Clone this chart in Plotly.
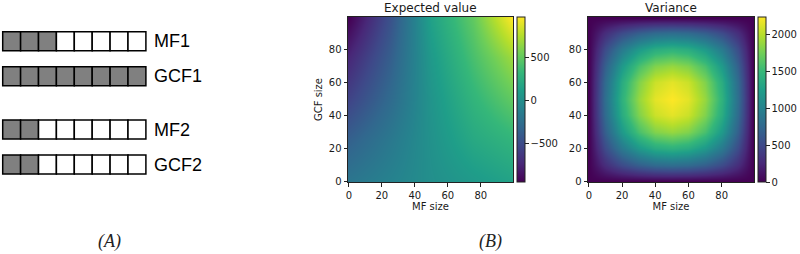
import plotly.graph_objects as go

W, H = 800, 254

# ---------------- Panel A data ----------------
row_labels = ["MF1", "GCF1", "MF2", "GCF2"]
filled_cells = [3, 8, 2, 2]
cells_per_row = 8

# ---------------- Panel B data ----------------
# Expected value, read on a coarse grid (rows = GCF size, cols = MF size)
ev_mf = [0, 25, 50, 75, 99]
ev_gcf = [0, 25, 50, 75, 99]
expected_value = [
    [-200, -100, 0, 80, 150],
    [-360, -180, 20, 200, 300],
    [-560, -290, 40, 300, 490],
    [-740, -380, 80, 400, 680],
    [-950, -470, 140, 490, 965],
]

# Variance, read on a coarse grid (rows = GCF size, cols = MF size)
var_mf = [0, 10, 20, 30, 40, 50, 60, 70, 80, 90, 99]
var_gcf = [0, 10, 20, 30, 40, 50, 60, 70, 80, 90, 99]
variance = [
    [0, 0, 0, 0, 0, 0, 0, 0, 0, 0, 0],
    [0, 289, 514, 674, 771, 803, 771, 674, 514, 289, 0],
    [0, 514, 913, 1199, 1370, 1427, 1370, 1199, 913, 514, 0],
    [0, 674, 1199, 1573, 1798, 1873, 1798, 1573, 1199, 674, 0],
    [0, 771, 1370, 1798, 2055, 2141, 2055, 1798, 1370, 771, 0],
    [0, 803, 1427, 1873, 2141, 2230, 2141, 1873, 1427, 803, 0],
    [0, 771, 1370, 1798, 2055, 2141, 2055, 1798, 1370, 771, 0],
    [0, 674, 1199, 1573, 1798, 1873, 1798, 1573, 1199, 674, 0],
    [0, 514, 913, 1199, 1370, 1427, 1370, 1199, 913, 514, 0],
    [0, 289, 514, 674, 771, 803, 771, 674, 514, 289, 0],
    [0, 0, 0, 0, 0, 0, 0, 0, 0, 0, 0],
]

ev_ticks = [-500, 0, 500]
var_ticks = [0, 500, 1000, 1500, 2000]
axis_ticks = [0, 20, 40, 60, 80]

# ---------------- layout helpers ----------------
def px_x(p):
    return p / W

def px_y(p):
    return 1 - p / H

MPL_FONT = "DejaVu Sans"
TXT = "#1a1a1a"

plot_top, plot_bot = 17, 182
ax1_l, ax1_r = 348, 513
ax2_l, ax2_r = 588, 754

fig = go.Figure()

cb_common = dict(
    xanchor="left", xpad=0, y=px_y((plot_top + plot_bot) / 2), yanchor="middle",
    len=(plot_bot - plot_top) / H, lenmode="fraction", ypad=0,
    thickness=8, thicknessmode="pixels", outlinewidth=1, outlinecolor="#222",
    ticks="outside", ticklen=3.5, tickwidth=0.8, tickcolor="#222",
    tickfont=dict(family=MPL_FONT, size=10, color=TXT),
)

fig.add_trace(go.Heatmap(
    x=ev_mf, y=ev_gcf, z=expected_value, colorscale="Viridis", zsmooth="best",
    xaxis="x", yaxis="y", hoverinfo="skip",
    colorbar=dict(x=px_x(ax1_r + 4), tickvals=ev_ticks, **cb_common),
))
fig.add_trace(go.Heatmap(
    x=var_mf, y=var_gcf, z=variance, colorscale="Viridis", zsmooth="best",
    xaxis="x2", yaxis="y2", hoverinfo="skip",
    colorbar=dict(x=px_x(ax2_r + 4), tickvals=var_ticks, **cb_common),
))

ax_common = dict(
    range=[-0.5, 99.5], showgrid=False, zeroline=False, showline=True, mirror=True,
    linecolor="#222", linewidth=1, ticks="outside", ticklen=3.5, tickwidth=0.8,
    tickcolor="#222", tickvals=axis_ticks, automargin=False,
    tickfont=dict(family=MPL_FONT, size=10, color=TXT),
)
ydom = [px_y(plot_bot), px_y(plot_top)]

fig.update_layout(
    width=W, height=H, margin=dict(l=0, r=0, t=0, b=0, autoexpand=False),
    paper_bgcolor="white", plot_bgcolor="white", showlegend=False,
    xaxis=dict(domain=[px_x(ax1_l), px_x(ax1_r)], anchor="y",
               title=dict(text="MF size", standoff=3,
                          font=dict(family=MPL_FONT, size=10, color=TXT)), **ax_common),
    yaxis=dict(domain=ydom, anchor="x",
               title=dict(text="GCF size", standoff=4,
                          font=dict(family=MPL_FONT, size=10, color=TXT)), **ax_common),
    xaxis2=dict(domain=[px_x(ax2_l), px_x(ax2_r)], anchor="y2",
                title=dict(text="MF size", standoff=3,
                           font=dict(family=MPL_FONT, size=10, color=TXT)), **ax_common),
    yaxis2=dict(domain=ydom, anchor="x2", **ax_common),
    xaxis3=dict(domain=[0, px_x(240)], range=[0, 240], visible=False, anchor="y3"),
    yaxis3=dict(domain=[0, 1], range=[H, 0], visible=False, anchor="x3"),
)

# ---------------- Panel A: cell diagram ----------------
cell_w = 17.9
cell_h = 19
x0 = 2.7
group_gap = 88.3
pair_gap = 35
for r, (label, nfill) in enumerate(zip(row_labels, filled_cells)):
    g, m = divmod(r, 2)
    top = 31.7 + pair_gap * m + group_gap * g
    for i in range(cells_per_row):
        fig.add_shape(
            type="rect", xref="x3", yref="y3",
            x0=x0 + i * cell_w, x1=x0 + (i + 1) * cell_w, y0=top, y1=top + cell_h,
            fillcolor="#808080" if i < nfill else "white",
            line=dict(color="black", width=1.5), layer="above",
        )
    fig.add_annotation(
        xref="x3", yref="y3", x=x0 + cells_per_row * cell_w + 6, y=top + cell_h / 2,
        text=label, showarrow=False, xanchor="left", yanchor="middle",
        font=dict(family="Liberation Sans, Arial", size=18, color="black"),
    )

# ---------------- titles and panel letters ----------------
for title, l, r in [("Expected value", ax1_l, ax1_r), ("Variance", ax2_l, ax2_r)]:
    fig.add_annotation(
        xref="paper", yref="paper", x=px_x((l + r) / 2), y=px_y(8),
        text=title, showarrow=False, xanchor="center", yanchor="middle",
        font=dict(family=MPL_FONT, size=12, color=TXT),
    )

for letter, cx in [("(A)", 109), ("(B)", 490)]:
    fig.add_annotation(
        xref="paper", yref="paper", x=px_x(cx), y=px_y(241),
        text="<i>" + letter + "</i>", showarrow=False, xanchor="center", yanchor="middle",
        font=dict(family="Liberation Serif, DejaVu Serif", size=18, color="#222"),
    )

fig.write_html(
    "out.html",
    config={"displayModeBar": False},
    post_script="document.body.style.margin='0';document.body.style.overflow='hidden';",
)
